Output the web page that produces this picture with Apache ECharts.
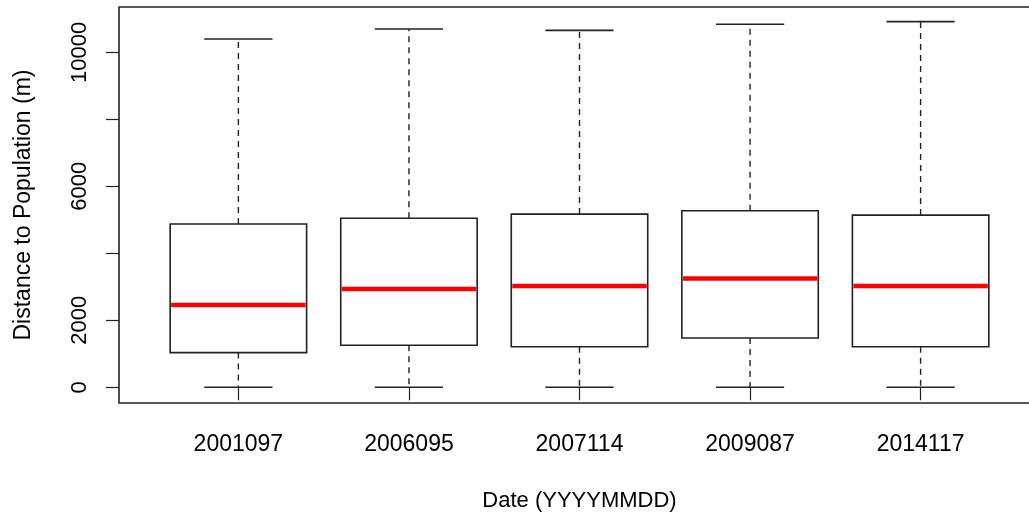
<!DOCTYPE html>
<html>
<head>
<meta charset="utf-8">
<script src="https://cdn.jsdelivr.net/npm/echarts@6/dist/echarts.min.js"></script>
<style>html,body{margin:0;padding:0;background:#fff;}#c{width:1029px;height:518px;}</style>
</head>
<body>
<div id="c"></div>
<script>
const categories = ['2001097', '2006095', '2007114', '2009087', '2014117'];
const lowValues    = [0, 0, 0, 0, 0];
const q1Values     = [1035, 1255, 1210, 1470, 1210];
const medianValues = [2460, 2935, 3025, 3245, 3025];
const q3Values     = [4875, 5045, 5170, 5270, 5140];
const highValues   = [10395, 10695, 10655, 10835, 10915];
const yTickValues  = [0, 2000, 4000, 6000, 8000, 10000];
const yLabelValues = [0, 2000, 6000, 10000];

const data = categories.map((c, i) => [i + 1, lowValues[i], q1Values[i], medianValues[i], q3Values[i], highValues[i]]);
const lineColor = '#222';
const font = 'Liberation Sans, Arial, sans-serif';

const chart = echarts.init(document.getElementById('c'));
chart.setOption({
  backgroundColor: '#fff',
  animation: false,
  grid: {
    left: 119, top: 7, width: 921, height: 396,
    containLabel: false, outerBoundsMode: 'none',
    show: true, borderColor: lineColor, borderWidth: 1.6, backgroundColor: 'transparent'
  },
  xAxis: {
    type: 'value', min: 0.3, max: 5.7,
    splitLine: { show: false },
    axisLine: { show: false },
    axisTick: { show: true, length: 13, customValues: [1, 2, 3, 4, 5], lineStyle: { color: lineColor, width: 1.2 } },
    axisLabel: {
      show: true, customValues: [1, 2, 3, 4, 5], margin: 30,
      formatter: v => categories[Math.round(v) - 1] || '',
      fontFamily: font, fontSize: 23, color: '#000'
    },
    name: 'Date (YYYYMMDD)', nameLocation: 'middle', nameGap: 87,
    nameTextStyle: { fontFamily: font, fontSize: 22, color: '#000' }
  },
  yAxis: {
    type: 'value', min: -469, max: 11352,
    splitLine: { show: false },
    axisLine: { show: false },
    axisTick: { show: true, length: 13, customValues: yTickValues, lineStyle: { color: lineColor, width: 1.2 } },
    axisLabel: {
      show: true, customValues: yLabelValues, rotate: 90, margin: 28,
      formatter: v => String(Math.round(v)),
      fontFamily: font, fontSize: 22, color: '#000'
    },
    name: 'Distance to Population (m)', nameLocation: 'middle', nameGap: 84,
    nameTextStyle: { fontFamily: font, fontSize: 23, color: '#000' }
  },
  series: [{
    type: 'custom',
    data: data,
    encode: { x: 0, y: [1, 2, 3, 4, 5] },
    renderItem: function (params, api) {
      const x = api.value(0);
      const pLow = api.coord([x, api.value(1)]);
      const pQ1 = api.coord([x, api.value(2)]);
      const pMed = api.coord([x, api.value(3)]);
      const pQ3 = api.coord([x, api.value(4)]);
      const pHigh = api.coord([x, api.value(5)]);
      const boxHalf = api.size([0.8, 0])[0] / 2;
      const capHalf = api.size([0.4, 0])[0] / 2;
      const cx = pMed[0];
      const solid = { stroke: lineColor, lineWidth: 1.6, fill: null };
      const dashed = { stroke: lineColor, lineWidth: 1.4, lineDash: [6, 5], fill: null };
      return {
        type: 'group',
        children: [
          { type: 'line', shape: { x1: cx, y1: pQ3[1], x2: cx, y2: pHigh[1] }, style: dashed },
          { type: 'line', shape: { x1: cx, y1: pQ1[1], x2: cx, y2: pLow[1] }, style: dashed },
          { type: 'line', shape: { x1: cx - capHalf, y1: pHigh[1], x2: cx + capHalf, y2: pHigh[1] }, style: solid },
          { type: 'line', shape: { x1: cx - capHalf, y1: pLow[1], x2: cx + capHalf, y2: pLow[1] }, style: solid },
          { type: 'rect', shape: { x: cx - boxHalf, y: pQ3[1], width: boxHalf * 2, height: pQ1[1] - pQ3[1] }, style: { stroke: lineColor, lineWidth: 1.6, fill: '#fff' } },
          { type: 'line', shape: { x1: cx - boxHalf + 1, y1: pMed[1], x2: cx + boxHalf - 1, y2: pMed[1] }, style: { stroke: '#ff0000', lineWidth: 4.5 } }
        ]
      };
    }
  }]
});
</script>
</body>
</html>
